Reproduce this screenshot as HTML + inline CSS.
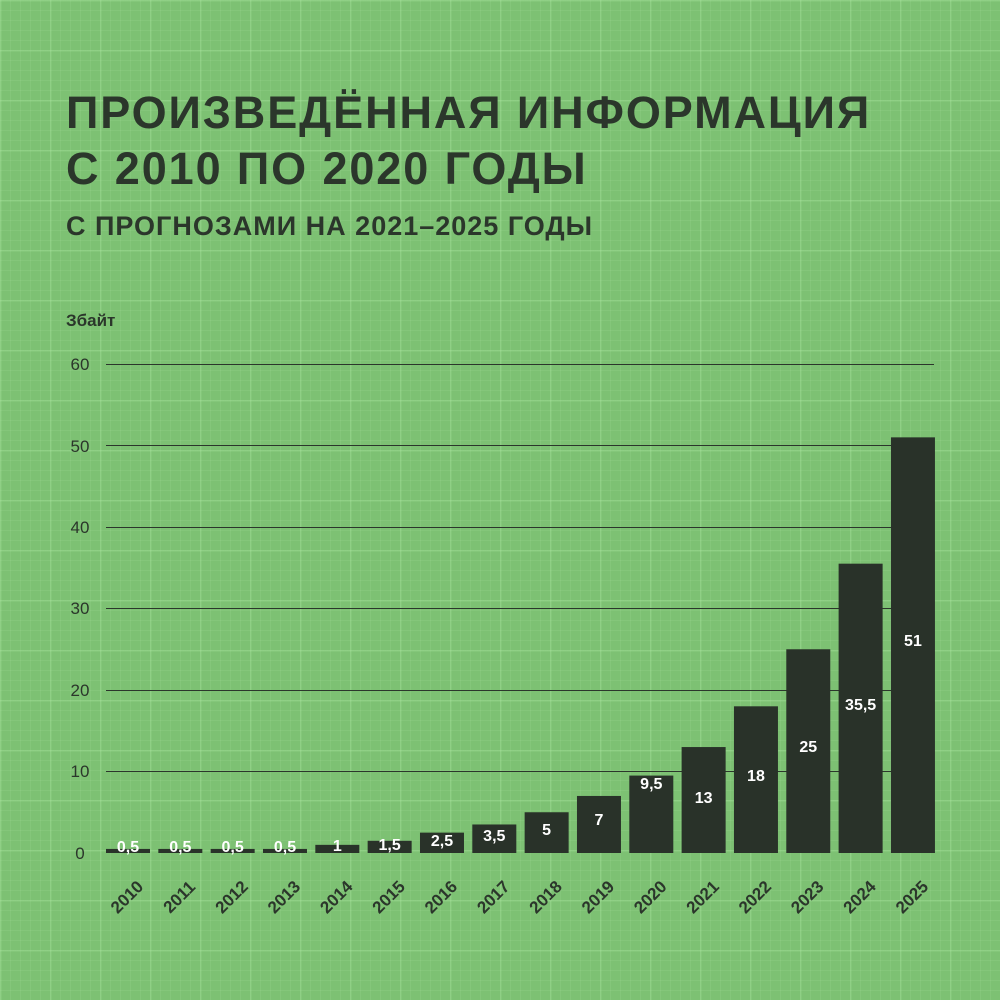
<!DOCTYPE html>
<html><head><meta charset="utf-8"><style>
body{margin:0;width:1000px;height:1000px;overflow:hidden;background:#7dc173;font-family:"Liberation Sans",sans-serif;}
.bg{position:absolute;inset:0;background-image:
linear-gradient(rgba(170,230,160,.3) 1.5px,transparent 1.5px),
linear-gradient(90deg,rgba(170,230,160,.3) 1.5px,transparent 1.5px),
linear-gradient(rgba(160,220,150,.2) 1px,transparent 1px),
linear-gradient(90deg,rgba(160,220,150,.2) 1px,transparent 1px);
background-size:50px 50px,50px 50px,10px 10px,10px 10px;}
.t{position:absolute;left:66px;color:#2b362b;font-weight:bold;white-space:nowrap;}
</style></head><body><div class="bg"></div>
<div class="t" style="top:85px;font-size:45px;letter-spacing:1.9px;line-height:56px">ПРОИЗВЕДЁННАЯ ИНФОРМАЦИЯ<br>С 2010 ПО 2020 ГОДЫ</div>
<div class="t" style="top:211px;font-size:27px;letter-spacing:1px">С ПРОГНОЗАМИ НА 2021–2025 ГОДЫ</div>
<div class="t" style="top:311px;font-size:17px">Збайт</div>
<svg width="1000" height="1000" style="position:absolute;left:0;top:0" font-family="Liberation Sans,sans-serif">
<g stroke="#2b362b" stroke-width="1">
<line x1="106" x2="934" y1="364.5" y2="364.5"/><line x1="106" x2="934" y1="445.5" y2="445.5"/><line x1="106" x2="934" y1="527.5" y2="527.5"/><line x1="106" x2="934" y1="608.5" y2="608.5"/><line x1="106" x2="934" y1="690.5" y2="690.5"/><line x1="106" x2="934" y1="771.5" y2="771.5"/>
</g>
<g fill="#2b362b" font-size="17" text-anchor="middle">
<text x="80" y="370">60</text><text x="80" y="452">50</text><text x="80" y="533">40</text><text x="80" y="614">30</text><text x="80" y="696">20</text><text x="80" y="777">10</text><text x="80" y="859">0</text>
</g>
<g id="bars"></g>
</svg>
<script>
var v=[0.5,0.5,0.5,0.5,1,1.5,2.5,3.5,5,7,9.5,13,18,25,35.5,51];
var ly=[846,846,846,846,845,844,840,835,829,819,783,797,775,746,704,640];
var g=document.getElementById('bars'),s='';
for(var i=0;i<16;i++){var x=106+i*52.33,h=Math.max(v[i]*8.15,3),y=853-h,c=x+22;
s+='<rect x="'+x+'" y="'+y+'" width="44" height="'+h+'" fill="#293229"/>';
s+='<text x="'+c+'" y="'+(ly[i]+6)+'" fill="#fff" font-size="16" font-weight="bold" text-anchor="middle">'+String(v[i]).replace('.',',')+'</text>';
s+='<text transform="translate('+(c+3)+',901) rotate(-45)" fill="#2b362b" font-size="17" font-weight="bold" text-anchor="middle">'+(2010+i)+'</text>';}
g.innerHTML=s;
</script>
</body></html>
